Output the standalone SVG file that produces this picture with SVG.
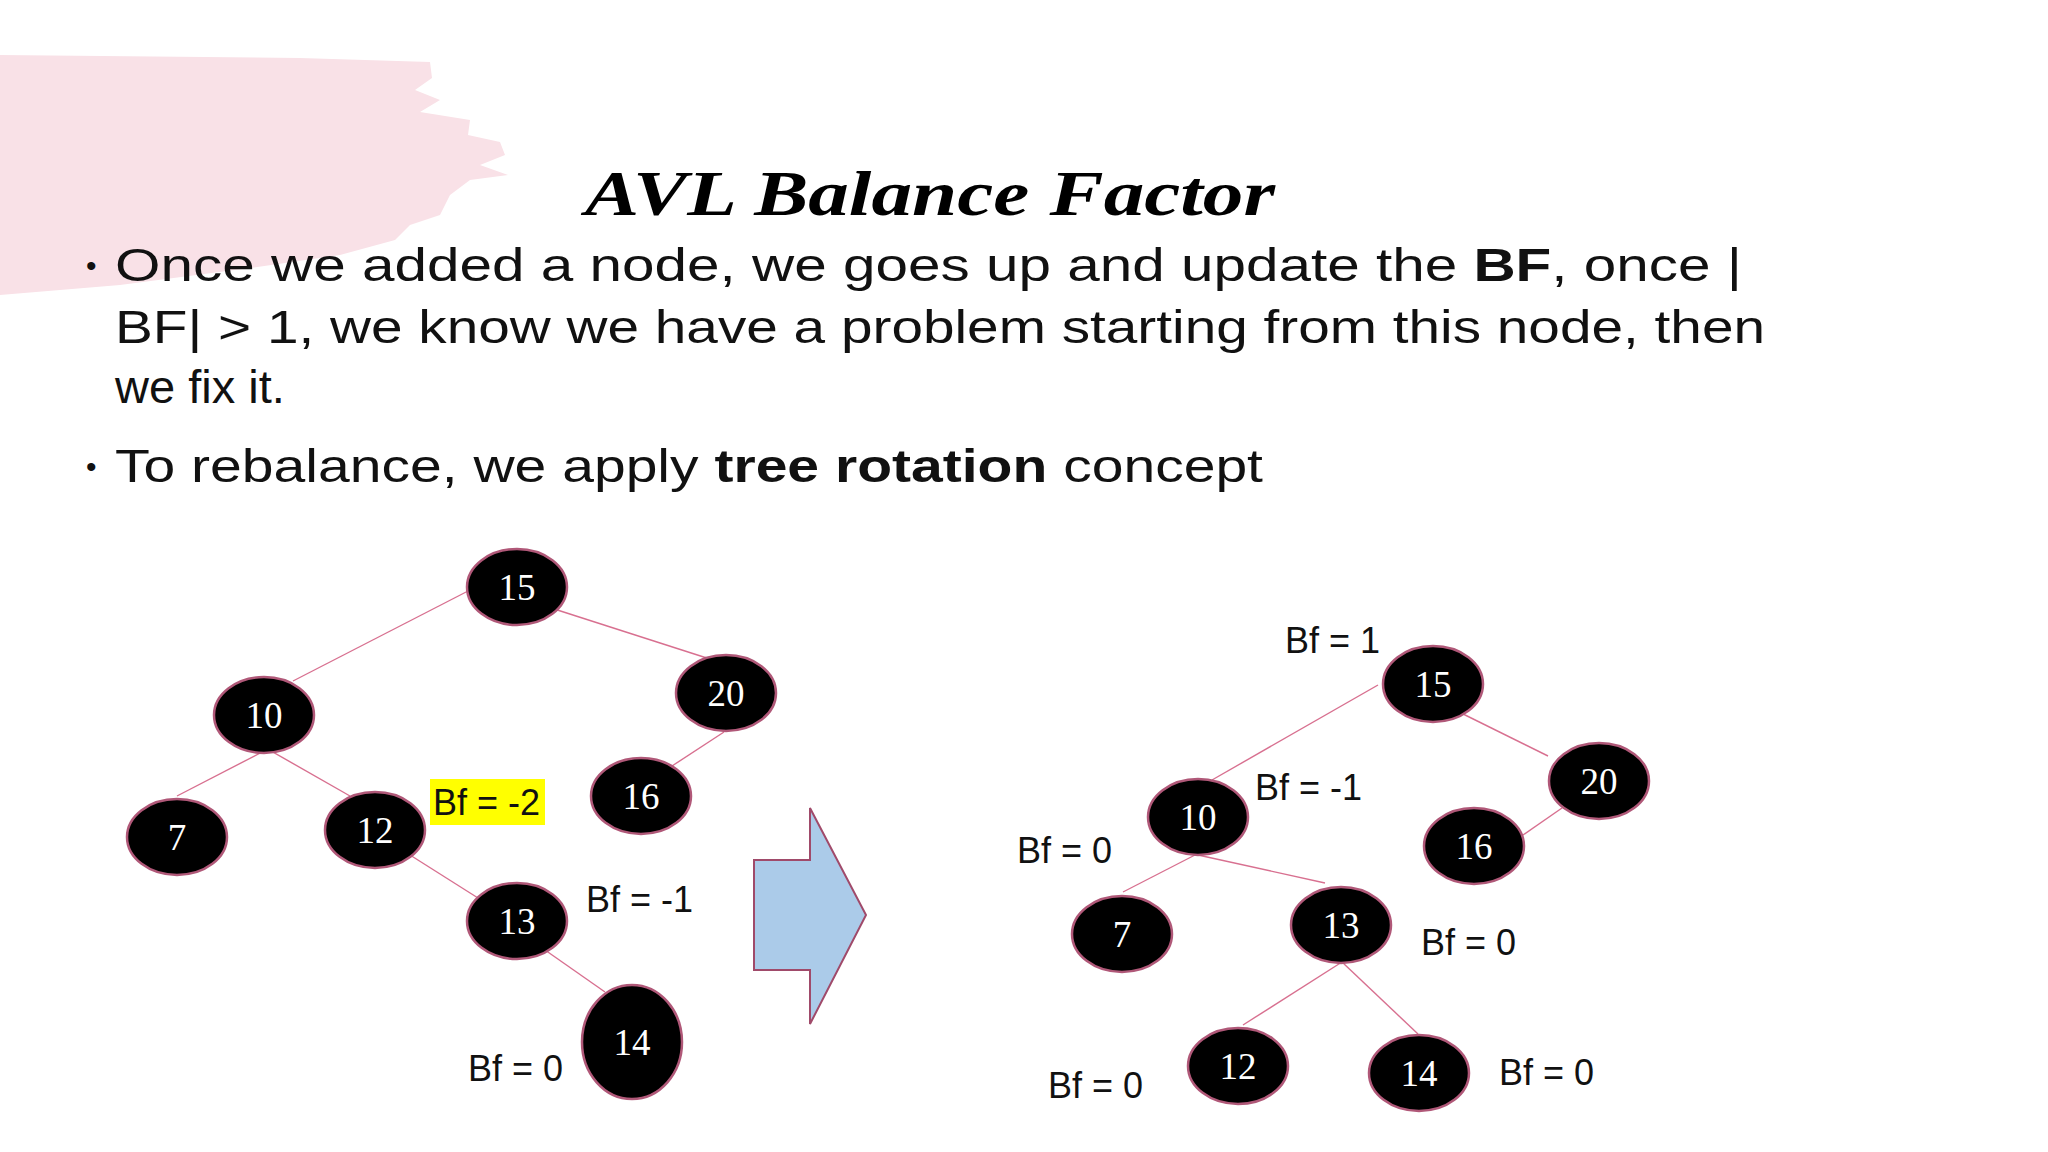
<svg xmlns="http://www.w3.org/2000/svg" width="2048" height="1152" viewBox="0 0 2048 1152">
<style>
.n ellipse{fill:#000;stroke:#b05878;stroke-width:2.5}
.n text{fill:#fff;font-family:"Liberation Serif",serif;font-size:37px;text-anchor:middle}
.e line{stroke:#d87090;stroke-width:1.4}
.bf{font-family:"Liberation Sans",sans-serif;font-size:36px;fill:#111}
.b{font-family:"Liberation Sans",sans-serif;font-size:47px;fill:#111}
</style>
<rect width="2048" height="1152" fill="#fff"/>
<path d="M0 55 L300 58 L430 62 L432 78 L415 90 L440 100 L420 112 L470 120 L468 135 L500 142 L505 155 L480 165 L508 175 L470 180 L450 195 L440 215 L410 225 L395 240 L340 255 L250 268 L120 285 L0 295 Z" fill="#f9e1e7"/>
<text x="930" y="215" text-anchor="middle" font-family="Liberation Serif,serif" font-weight="bold" font-style="italic" font-size="64" textLength="690" lengthAdjust="spacingAndGlyphs">AVL Balance Factor</text>
<g class="b">
<text x="86" y="276" font-size="30">•</text>
<text x="115" y="281" textLength="1627" lengthAdjust="spacingAndGlyphs">Once we added a node, we goes up and update the <tspan font-weight="bold">BF</tspan>, once |</text>
<text x="115" y="343" textLength="1650" lengthAdjust="spacingAndGlyphs">BF| &gt; 1, we know we have a problem starting from this node, then</text>
<text x="115" y="403">we fix it.</text>
<text x="86" y="477" font-size="30">•</text>
<text x="115" y="482" textLength="1148" lengthAdjust="spacingAndGlyphs">To rebalance, we apply <tspan font-weight="bold">tree rotation</tspan> concept</text>
</g>
<g class="e">
<line x1="470" y1="590" x2="293" y2="681"/>
<line x1="548" y1="607" x2="713" y2="660"/>
<line x1="270" y1="748" x2="177" y2="796"/>
<line x1="250" y1="739" x2="350" y2="796"/>
<line x1="410" y1="855" x2="497" y2="910"/>
<line x1="545" y1="950" x2="605" y2="992"/>
<line x1="724" y1="732" x2="672" y2="766"/>
<line x1="1378" y1="685" x2="1212" y2="780"/>
<line x1="1455" y1="710" x2="1548" y2="756"/>
<line x1="1195" y1="855" x2="1123" y2="892"/>
<line x1="1198" y1="855" x2="1325" y2="883"/>
<line x1="1342" y1="962" x2="1243" y2="1025"/>
<line x1="1342" y1="962" x2="1418" y2="1034"/>
<line x1="1562" y1="808" x2="1523" y2="835"/>
</g>
<g id="L15" class="n"><ellipse cx="517" cy="587" rx="50" ry="38"/><text x="517" y="600">15</text></g>
<g id="L10" class="n"><ellipse cx="264" cy="715" rx="50" ry="38"/><text x="264" y="728">10</text></g>
<g id="L20" class="n"><ellipse cx="726" cy="693" rx="50" ry="38"/><text x="726" y="706">20</text></g>
<g id="L7" class="n"><ellipse cx="177" cy="837" rx="50" ry="38"/><text x="177" y="850">7</text></g>
<g id="L12" class="n"><ellipse cx="375" cy="830" rx="50" ry="38"/><text x="375" y="843">12</text></g>
<g id="L16" class="n"><ellipse cx="641" cy="796" rx="50" ry="38"/><text x="641" y="809">16</text></g>
<g id="L13" class="n"><ellipse cx="517" cy="921" rx="50" ry="38"/><text x="517" y="934">13</text></g>
<g id="L14" class="n"><ellipse cx="632" cy="1042" rx="50" ry="57"/><text x="632" y="1055">14</text></g>
<rect x="430" y="779" width="115" height="46" fill="#ffff00"/>
<text class="bf" x="433" y="815">Bf = -2</text>
<text class="bf" x="586" y="912">Bf = -1</text>
<text class="bf" x="468" y="1081">Bf = 0</text>
<polygon points="754,860 810,860 810,808 866,915 810,1024 810,970 754,970" fill="#abcbe9" stroke="#a04a6a" stroke-width="2"/>
<g id="R15" class="n"><ellipse cx="1433" cy="684" rx="50" ry="38"/><text x="1433" y="697">15</text></g>
<g id="R20" class="n"><ellipse cx="1599" cy="781" rx="50" ry="38"/><text x="1599" y="794">20</text></g>
<g id="R10" class="n"><ellipse cx="1198" cy="817" rx="50" ry="38"/><text x="1198" y="830">10</text></g>
<g id="R16" class="n"><ellipse cx="1474" cy="846" rx="50" ry="38"/><text x="1474" y="859">16</text></g>
<g id="R7" class="n"><ellipse cx="1122" cy="934" rx="50" ry="38"/><text x="1122" y="947">7</text></g>
<g id="R13" class="n"><ellipse cx="1341" cy="925" rx="50" ry="38"/><text x="1341" y="938">13</text></g>
<g id="R12" class="n"><ellipse cx="1238" cy="1066" rx="50" ry="38"/><text x="1238" y="1079">12</text></g>
<g id="R14" class="n"><ellipse cx="1419" cy="1073" rx="50" ry="38"/><text x="1419" y="1086">14</text></g>
<text class="bf" x="1285" y="653">Bf = 1</text>
<text class="bf" x="1255" y="800">Bf = -1</text>
<text class="bf" x="1017" y="863">Bf = 0</text>
<text class="bf" x="1421" y="955">Bf = 0</text>
<text class="bf" x="1048" y="1098">Bf = 0</text>
<text class="bf" x="1499" y="1085">Bf = 0</text>
</svg>
